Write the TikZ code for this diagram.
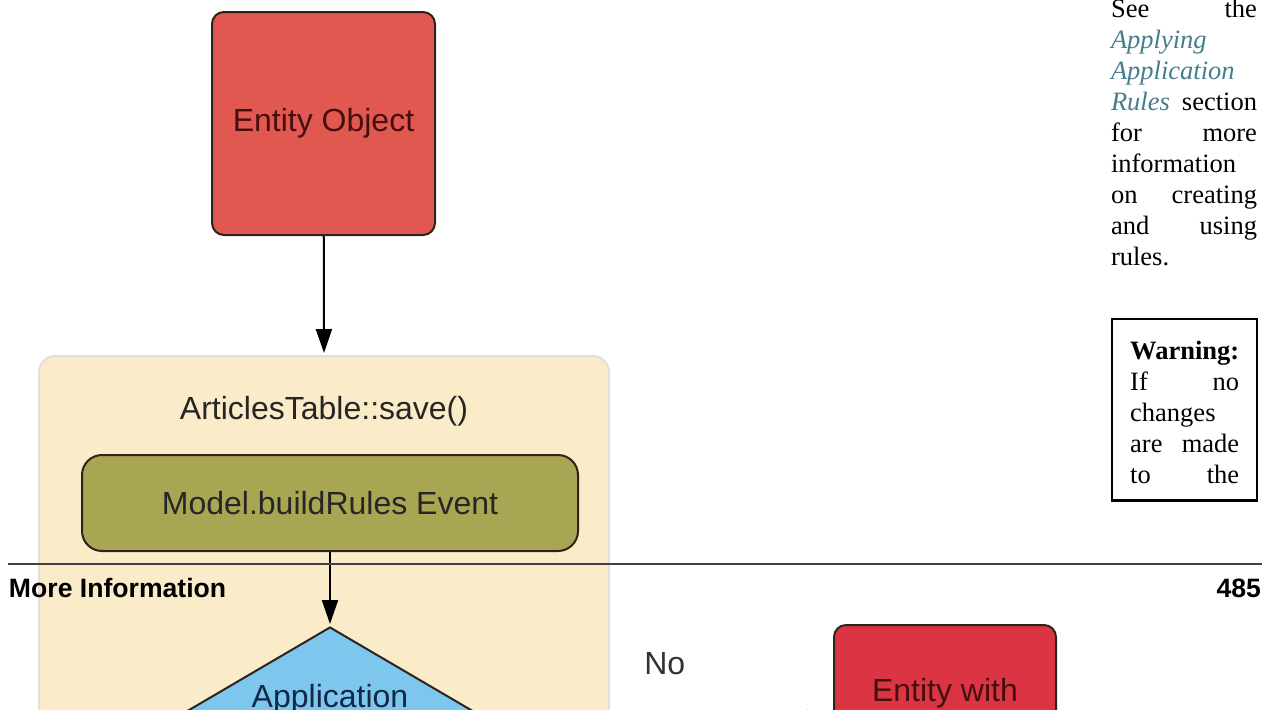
\documentclass[tikz,border=0pt]{standalone}
\usepackage{fontspec}
\setmainfont{Liberation Serif}
\newfontfamily\diagfont{Liberation Sans}
\usetikzlibrary{shapes.geometric,arrows.meta,positioning}

\definecolor{entityred}{RGB}{224,88,80}
\definecolor{errorred}{RGB}{219,52,66}
\definecolor{tablebg}{RGB}{250,236,200}
\definecolor{eventolive}{RGB}{168,166,82}
\definecolor{rulesblue}{RGB}{125,199,238}
\definecolor{linkteal}{RGB}{69,125,140}
\definecolor{darkline}{RGB}{45,35,30}
\definecolor{redtext}{RGB}{70,15,15}

\newcommand{\doclink}[1]{\textcolor{linkteal}{\textit{#1}}}

\begin{document}
\begin{tikzpicture}[x=0.5pt,y=-0.5pt,line width=1pt]
\tikzstyle{box}=[draw=darkline, rounded corners=6pt, inner sep=0pt,
  font=\diagfont\fontsize{16pt}{19pt}\selectfont];
\tikzstyle{flow}=[-{Triangle[width=8pt,length=12pt]}, line width=1pt, shorten >=1pt];
\tikzstyle{pagetext}=[inner sep=0pt, align=left,
  font=\fontsize{13.25pt}{15.5pt}\selectfont];
\tikzstyle{pagehead}=[inner sep=0pt, font=\diagfont\bfseries\fontsize{13.3pt}{16pt}\selectfont];
\useasboundingbox (0,0) rectangle (1268,709);
\clip (0,0) rectangle (1268,709);

% save() flow
\node[box, fill=entityred, text=redtext, minimum width=111.5pt, minimum height=111.5pt]
  (entity) at (323.5,123.5) {Entity Object};
\node[draw=black!12, fill=tablebg, rounded corners=8pt, minimum width=285pt,
  minimum height=200pt, anchor=north west] (table) at (38,355) {};
\node[inner sep=0pt, font=\diagfont\fontsize{16pt}{19pt}\selectfont, text=black!85]
  (tabletitle) [below=20pt of table.north] {ArticlesTable::save()};
\node[box, fill=eventolive, text=black!85, rounded corners=10pt, minimum width=248pt,
  minimum height=48pt] (event) at (330,503) {Model.buildRules Event};
\node[box, diamond, aspect=1.7, rounded corners=0pt, fill=rulesblue, text={rgb,255:red,20;green,40;blue,70},
  minimum width=155pt, minimum height=91pt, text depth=22.6pt] (rules) at (330,718) {Application};
\node[box, fill=errorred, text=redtext, minimum width=111pt, minimum height=93pt,
  text depth=28pt] (errors) at (945,718) {Entity with};

\draw[flow] (entity) -- (table.north);
\draw[flow] (event) -- (rules.north);
\draw[flow] (rules.east) -- node[pos=.515, above=21pt, inner sep=0pt,
  font=\diagfont\fontsize{16pt}{19pt}\selectfont, text=black!80] {No} (errors.west);

% page around it
\coordinate (rulestart) at (8,564);
\coordinate (ruleend) at (1262,564);
\draw[line width=0.7pt, black!75] (rulestart) -- (ruleend);
\node[pagehead, anchor=base west] (section) at (8,597) {More Information};
\node[pagehead, anchor=base east] (pagenum) at (1262,597) {485};

\node[pagetext, text width=73pt, anchor=base west] (seealso) at (1110,17) {%
  See\hfill the\\
  \doclink{Applying}\\
  \doclink{Application}\\
  \doclink{Rules}\hfill section\\
  for\hfill more\\
  information\\
  on\hfill creating\\
  and\hfill using\\
  rules.};
\node[pagetext, draw, line width=1.2pt, text width=54.5pt, inner xsep=9pt, inner ysep=8.5pt,
  anchor=north west] (warning) at (1111,318) {%
  \rule{0pt}{11.5pt}\textbf{Warning:}\\
  If\hfill no\\
  changes\\
  are\hfill made\\
  to\hfill the};
\end{tikzpicture}
\end{document}
